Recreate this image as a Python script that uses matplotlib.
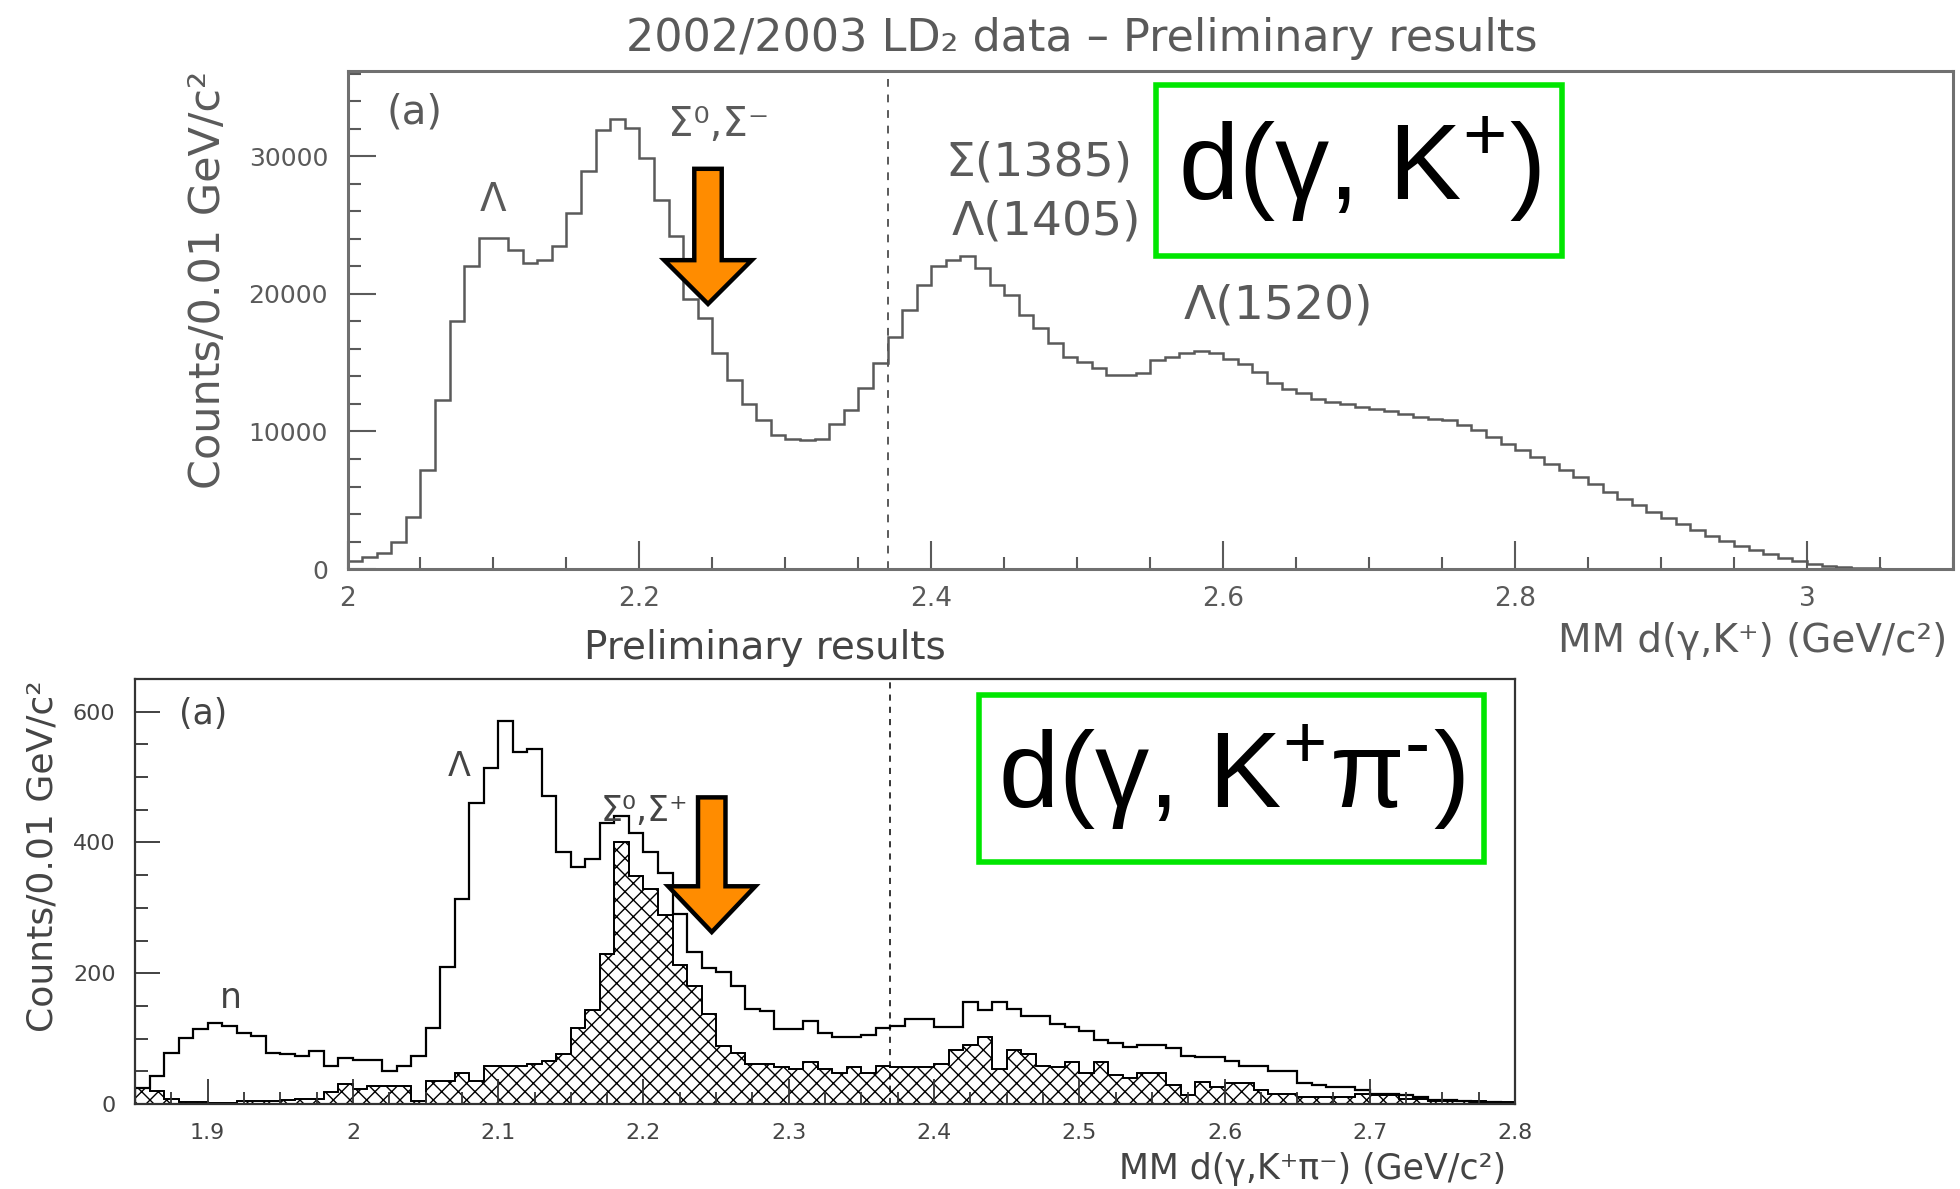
import numpy as np
import matplotlib
matplotlib.use("Agg")
import matplotlib.pyplot as plt
from matplotlib.patches import FancyArrow, Rectangle
from matplotlib.ticker import FixedLocator, MultipleLocator, FixedFormatter

plt.rcParams['font.family'] = ['DejaVu Sans']
plt.rcParams['mathtext.fontset'] = 'custom'
plt.rcParams['mathtext.rm'] = 'Liberation Sans'
plt.rcParams['mathtext.it'] = 'Liberation Sans'
plt.rcParams['hatch.linewidth'] = 1.0

# top panel: d(gamma, K+) missing mass, 0.01 GeV bins from 2.00 to 3.10
top_edges = np.round(np.arange(2.00, 3.105, 0.01), 2)
top_counts = [
    600, 850, 1140, 2000, 3800, 7200, 12300, 18000, 22000, 24060,
    24060, 23160, 22280, 22480, 23450, 25880, 28920, 31900, 32730, 32080,
    29840, 26850, 24180, 19600, 18230, 15670, 13730, 12030, 10860, 9720,
    9480, 9360, 9480, 10570, 11540, 13170, 14990, 16900, 18850, 20650,
    21990, 22480, 22720, 21870, 20660, 19930, 18470, 17500, 16450, 15430,
    15070, 14580, 14090, 14090, 14220, 15190, 15430, 15670, 15870, 15670,
    15260, 14900, 14340, 13490, 13120, 12760, 12390, 12150, 12030, 11790,
    11660, 11490, 11300, 11060, 10940, 10810, 10450, 10090, 9600, 9110,
    8630, 8140, 7650, 7170, 6680, 6150, 5590, 5100, 4620, 4130,
    3720, 3280, 2840, 2430, 2070, 1700, 1390, 1090, 800, 560,
    360, 220, 150, 100, 60, 30, 15, 5, 0, 0]
top_xticks = [2.0, 2.2, 2.4, 2.6, 2.8, 3.0]
top_xticklabels = ['2', '2.2', '2.4', '2.6', '2.8', '3']
top_yticks = [0, 10000, 20000, 30000]

# bottom panel: d(gamma, K+ pi-) missing mass, 0.01 GeV bins from 1.85 to 2.80
bot_edges = np.round(np.arange(1.85, 2.805, 0.01), 2)
bot_all = [
    25, 43, 78, 101, 114, 124, 119, 109, 104, 78,
    76, 74, 81, 58, 71, 68, 68, 51, 58, 74,
    116, 210, 314, 461, 514, 586, 539, 543, 471, 385,
    363, 375, 430, 441, 415, 385, 354, 291, 233, 208,
    202, 180, 146, 142, 114, 114, 127, 109, 103, 103,
    106, 116, 119, 130, 130, 117, 117, 156, 143, 156,
    146, 135, 135, 122, 117, 111, 98, 93, 87, 90,
    90, 85, 74, 72, 72, 66, 58, 58, 50, 50,
    32, 29, 26, 26, 21, 16, 16, 13, 10, 6,
    6, 4, 3, 3, 2]
bot_hatched = [
    25, 20, 8, 3, 3, 2, 2, 5, 5, 5,
    6, 8, 8, 18, 30, 23, 28, 28, 28, 5,
    35, 35, 48, 35, 58, 58, 58, 61, 66, 76,
    116, 144, 230, 400, 349, 329, 289, 213, 180, 137,
    89, 78, 61, 61, 56, 53, 64, 53, 48, 56,
    48, 58, 56, 56, 56, 61, 82, 90, 103, 53,
    82, 77, 58, 56, 64, 48, 64, 45, 40, 48,
    48, 29, 13, 34, 26, 32, 32, 21, 16, 16,
    11, 11, 11, 11, 16, 13, 13, 8, 8, 5,
    5, 5, 5, 3, 3]
bot_xticks = [1.9, 2.0, 2.1, 2.2, 2.3, 2.4, 2.5, 2.6, 2.7, 2.8]
bot_xticklabels = ['1.9', '2', '2.1', '2.2', '2.3', '2.4', '2.5', '2.6', '2.7', '2.8']
bot_yticks = [0, 200, 400, 600]

cut = 2.37
grey = '#5a5a5a'
dark = '#444444'
orange = '#ff8c00'
green = '#00e600'

fig = plt.figure(figsize=(19.6, 11.89), dpi=100)
fig.patch.set_facecolor('white')

# ---------- top panel ----------
ax1 = fig.add_axes([0.1773, 0.5214, 0.8191, 0.4189])
ax1.stairs(top_counts, top_edges, color=grey, lw=1.8)
ax1.axvline(cut, color=grey, ls=(0, (4, 4)), lw=1.4)
ax1.set_xlim(2.0, 3.1)
ax1.set_ylim(0, 36200)
ax1.xaxis.set_major_locator(FixedLocator(top_xticks))
ax1.xaxis.set_major_formatter(FixedFormatter(top_xticklabels))
ax1.xaxis.set_minor_locator(MultipleLocator(0.05))
ax1.yaxis.set_major_locator(FixedLocator(top_yticks))
ax1.yaxis.set_minor_locator(MultipleLocator(2000))
ax1.tick_params(which='both', direction='in', colors=grey, width=1.5)
ax1.tick_params(which='major', length=20)
ax1.tick_params(which='minor', length=9)
ax1.tick_params(axis='x', labelsize=19, pad=12)
ax1.tick_params(axis='y', labelsize=18, pad=14)
for s in ax1.spines.values():
    s.set_color('#707070')
    s.set_linewidth(2.2)
ax1.set_ylabel('Counts/0.01 GeV/c²', fontsize=31, color=grey, va='center')
ax1.yaxis.set_label_coords(-0.087, 0.58)
ax1.set_xlabel('MM d(γ,K⁺) (GeV/c²)', fontsize=28, color=grey, ha='right', va='center')
ax1.xaxis.set_label_coords(0.9963, -0.145)

ax1.text(2.046, 33200, '(a)', fontsize=29, color=grey, ha='center', va='center')
ax1.text(2.100, 26800, 'Λ', fontsize=28, color=grey, ha='center', va='center')
ax1.text(2.254, 32300, 'Σ⁰,Σ⁻', fontsize=29, color=grey, ha='center', va='center')
ax1.text(2.474, 29500, 'Σ(1385)', fontsize=34, color=grey, ha='center', va='center')
ax1.text(2.479, 25200, 'Λ(1405)', fontsize=34, color=grey, ha='center', va='center')
ax1.text(2.638, 19100, 'Λ(1520)', fontsize=34, color=grey, ha='center', va='center')

ax1.add_patch(FancyArrow(2.247, 29090, 0, -9820, width=0.0188, head_width=0.06,
                         head_length=3180, length_includes_head=True,
                         facecolor=orange, edgecolor='black', lw=3.2, zorder=5))

fig.text(0.552, 0.968, '2002/2003 LD₂ data – Preliminary results', fontsize=32,
         color=grey, ha='center', va='center')

# ---------- bottom panel ----------
ax2 = fig.add_axes([0.0689, 0.0715, 0.7041, 0.3574])
ax2.stairs(bot_hatched, bot_edges, fill=True, facecolor='none', edgecolor='black',
           hatch='xx', lw=1.2)
ax2.stairs(bot_hatched, bot_edges, color='black', lw=1.3)
ax2.stairs(bot_all, bot_edges, color='black', lw=1.6)
ax2.axvline(cut, color='black', ls=(0, (4, 4)), lw=1.1)
ax2.set_xlim(1.85, 2.8)
ax2.set_ylim(0, 650)
ax2.xaxis.set_major_locator(FixedLocator(bot_xticks))
ax2.xaxis.set_major_formatter(FixedFormatter(bot_xticklabels))
ax2.xaxis.set_minor_locator(MultipleLocator(0.025))
ax2.yaxis.set_major_locator(FixedLocator(bot_yticks))
ax2.yaxis.set_minor_locator(MultipleLocator(50))
ax2.tick_params(which='both', direction='in', colors='#333333', width=1.3)
ax2.tick_params(which='major', length=18)
ax2.tick_params(which='minor', length=9)
ax2.tick_params(axis='both', labelsize=16, pad=14, labelcolor=dark)
for s in ax2.spines.values():
    s.set_color('#333333')
    s.set_linewidth(1.6)
ax2.set_ylabel('Counts/0.01 GeV/c²', fontsize=26, color=dark, va='center')
ax2.yaxis.set_label_coords(-0.0674, 0.584)
ax2.set_xlabel('MM d(γ,K⁺π⁻) (GeV/c²)', fontsize=25, color=dark, ha='right', va='center')
ax2.xaxis.set_label_coords(0.9935, -0.153)

ax2.text(1.897, 596, '(a)', fontsize=25, color=dark, ha='center', va='center')
ax2.text(1.916, 162, 'n', fontsize=25, color=dark, ha='center', va='center')
ax2.text(2.073, 516, 'Λ', fontsize=24, color=dark, ha='center', va='center')
ax2.text(2.201, 448, 'Σ⁰,Σ⁺', fontsize=25, color=dark, ha='center', va='center')

ax2.add_patch(FancyArrow(2.247, 469, 0, -206, width=0.0189, head_width=0.06,
                         head_length=70, length_includes_head=True,
                         facecolor=orange, edgecolor='black', lw=3.2, zorder=5))

fig.text(0.390, 0.4554, 'Preliminary results', fontsize=28, color=dark,
         ha='center', va='center')

# ---------- green reaction labels ----------
fig.add_artist(Rectangle((0.5898, 0.7847), 0.2071, 0.1438, transform=fig.transFigure,
                         facecolor='white', edgecolor=green, lw=4))
fig.text(0.6934, 0.857, r'd(γ, K$^{+}$)', fontsize=78, family='Liberation Sans',
         color='black', ha='center', va='center')
fig.add_artist(Rectangle((0.4995, 0.2750), 0.2577, 0.1405, transform=fig.transFigure,
                         facecolor='white', edgecolor=green, lw=4))
fig.text(0.628, 0.3457, 'd(γ, K$^{+}$π$^{\u2010}$)', fontsize=78, family='Liberation Sans',
         color='black', ha='center', va='center')

fig.savefig('out.png', dpi=100, facecolor='white')
